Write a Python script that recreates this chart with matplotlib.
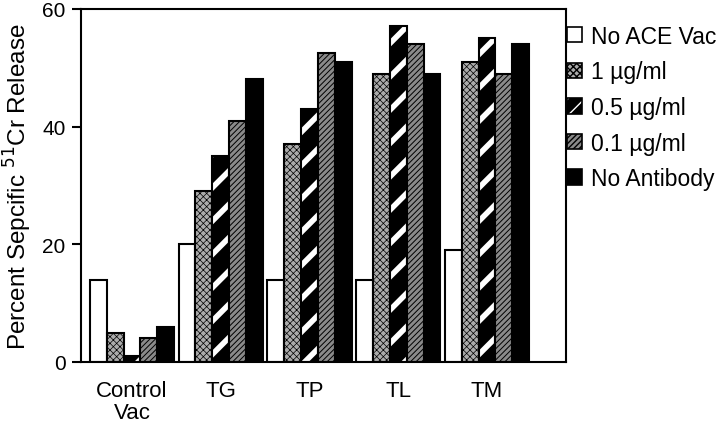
import matplotlib as mpl
mpl.use('Agg')
from matplotlib import pyplot as plt
from matplotlib.patches import Patch
from matplotlib.legend_handler import HandlerTuple
import numpy as np

plt.rcParams.update({'font.size': 15,
                     'font.family': ['Liberation Sans', 'DejaVu Sans']})

groups = ['Control\nVac', 'TG', 'TP', 'TL', 'TM']
series = ['No ACE Vac', '1 \u00b5g/ml', '0.5 \u00b5g/ml', '0.1 \u00b5g/ml', 'No Antibody']
no_ace = [14, 20, 14, 14, 19]
ug_1 = [5, 29, 37, 49, 51]
ug_05 = [1, 35, 43, 57, 55]
ug_01 = [4, 41, 52.5, 54, 49]
no_ab = [6, 48, 51, 49, 54]
values = [no_ace, ug_1, ug_05, ug_01, no_ab]

# face, hatch, hatch colour, hatch linewidth
styles = [('white', None, 'black', 1.0),
          ('#ababab', 'xxxxx', 'black', 0.5),
          ('black', '/', 'white', 4.0),
          ('#8a8a8a', '//////', 'black', 0.7),
          ('black', None, 'black', 1.0)]

fig, ax = plt.subplots(figsize=(7.2, 4.27), dpi=100)
fig.subplots_adjust(left=0.1125, right=0.786, bottom=0.15, top=0.977)

x = np.arange(len(groups))
width = 0.19
offsets = (np.arange(5) - 2) * width
for vals, off, (fc, hatch, hc, hlw) in zip(values, offsets, styles):
    bars = ax.bar(x + off, vals, width, color=fc, edgecolor=hc, hatch=hatch, linewidth=0)
    for b in bars:
        b.set_hatch_linewidth(hlw)
    ax.bar(x + off, vals, width, fill=False, edgecolor='black', linewidth=1.5)

ax.set_xlim(-0.575, 4.89)
ax.set_ylim(0, 60)
ax.set_yticks([0, 20, 40, 60])
ax.set_xticks(x)
ax.set_xticklabels(groups, fontsize=16, linespacing=1.05)
ax.tick_params(axis='x', length=0, pad=13)
ax.tick_params(axis='y', direction='out', length=6.5, width=1.5, pad=4.5)
for s in ax.spines.values():
    s.set_linewidth(1.5)
ax.set_ylabel('Percent Sepcific $^{51}$Cr Release', fontsize=17.5, labelpad=6)

# legend keys: hatch-only patch under a black outline
legend_hatch = [None, 'xxxxx', '//', '//////', None]
handles = []
for (fc, _, hc, hlw), h in zip(styles, legend_hatch):
    fill = Patch(facecolor=fc, edgecolor=hc, hatch=h, linewidth=0)
    outline = Patch(facecolor='none', edgecolor='black', linewidth=1.2)
    handles.append((fill, outline))
leg = ax.legend(handles=handles, labels=series, handler_map={tuple: HandlerTuple(ndivide=1)},
                loc='upper left', bbox_to_anchor=(1.003, 0.955), borderaxespad=0, borderpad=0,
                frameon=False, handlelength=0.65, handleheight=0.65,
                labelspacing=0.55, handletextpad=0.4, fontsize=16.5)

fig.savefig('out.png', dpi=100)
